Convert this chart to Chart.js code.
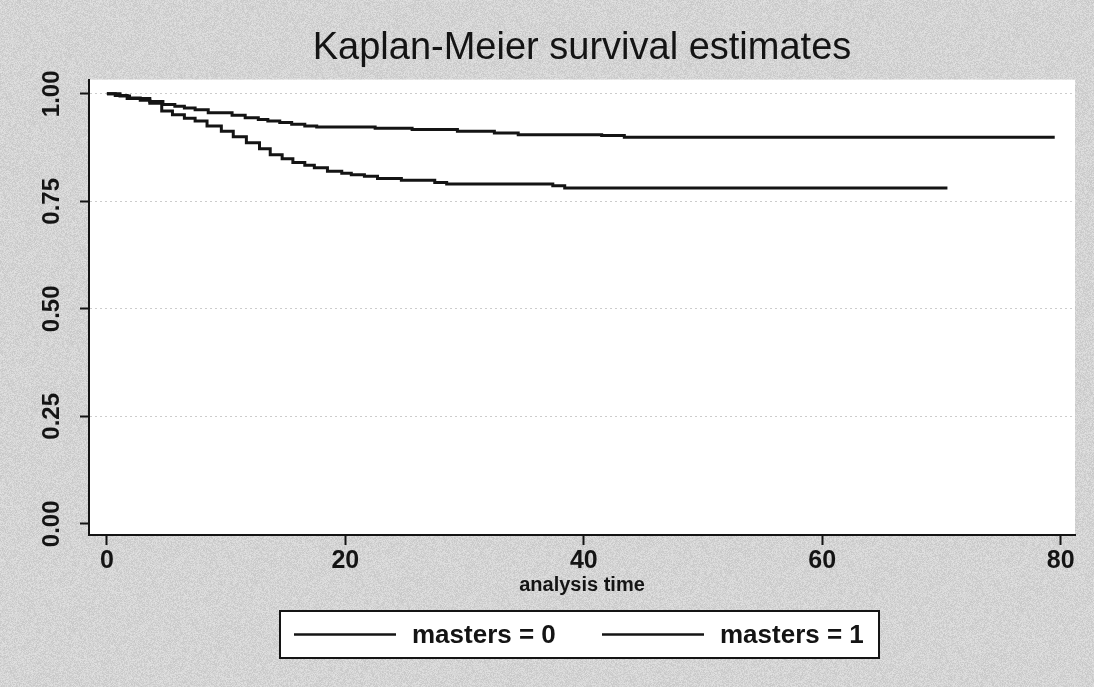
<!DOCTYPE html>
<html>
<head>
<meta charset="utf-8">
<title>Kaplan-Meier survival estimates</title>
<script src="https://cdn.jsdelivr.net/npm/chart.js@4.4.1/dist/chart.umd.min.js"></script>
<style>
  html, body { margin: 0; padding: 0; background: #d3d3d3; }
  canvas { display: block; }
</style>
</head>
<body>
<canvas id="km" width="1094" height="687"></canvas>
<script>
// Kaplan-Meier step estimates by group (time, survival after the step)
const timeMasters0 = [0, 0.7, 1.7, 3.6, 4.7, 5.7, 6.5, 7.4, 8.5, 10.5, 11.6, 12.7, 13.5, 14.5, 15.5, 16.6, 17.6, 22.5, 25.6, 29.4, 32.5, 34.5, 41.5, 43.4, 79.5];
const survMasters0 = [1.000, 0.996, 0.989, 0.982, 0.975, 0.971, 0.967, 0.963, 0.956, 0.950, 0.944, 0.940, 0.937, 0.933, 0.929, 0.925, 0.923, 0.920, 0.917, 0.913, 0.909, 0.905, 0.903, 0.899, 0.899];

const timeMasters1 = [0, 1.1, 1.9, 2.8, 3.6, 4.6, 5.5, 6.5, 7.4, 8.4, 9.6, 10.6, 11.7, 12.8, 13.7, 14.7, 15.6, 16.6, 17.4, 18.5, 19.7, 20.5, 21.6, 22.7, 24.7, 27.5, 28.5, 37.4, 38.4, 70.5];
const survMasters1 = [1.000, 0.995, 0.990, 0.985, 0.978, 0.960, 0.951, 0.943, 0.937, 0.925, 0.913, 0.900, 0.886, 0.872, 0.858, 0.849, 0.840, 0.834, 0.828, 0.820, 0.815, 0.812, 0.808, 0.803, 0.799, 0.794, 0.790, 0.786, 0.781, 0.781];

const groupLabels = ['masters = 0', 'masters = 1'];
const xTicks = [0, 20, 40, 60, 80];
const yTicks = [0, 0.25, 0.5, 0.75, 1];

const FONT = "'Liberation Sans', Arial, Helvetica, sans-serif";
const INK = '#141414';

function toPoints(ts, ss) {
  return ts.map((t, i) => ({ x: t, y: ss[i] }));
}

// Paper tone with a fine grain, white plot region on top
let grainCanvas = null;
function makeGrain(w, h) {
  const c = document.createElement('canvas');
  c.width = w; c.height = h;
  const g = c.getContext('2d');
  const img = g.createImageData(w, h);
  let s = 12345;
  for (let i = 0; i < w * h; i++) {
    s = (s * 1103515245 + 12345) & 0x7fffffff;
    const n = ((s >> 16) & 63) - 32;
    const v = 212 + Math.round(n * 0.4);
    img.data[i * 4] = v; img.data[i * 4 + 1] = v; img.data[i * 4 + 2] = v; img.data[i * 4 + 3] = 255;
  }
  g.putImageData(img, 0, 0);
  return c;
}

const backdrop = {
  id: 'backdrop',
  beforeDraw(chart) {
    const { ctx, chartArea: a, width, height } = chart;
    if (!grainCanvas) grainCanvas = makeGrain(width, height);
    ctx.save();
    ctx.drawImage(grainCanvas, 0, 0);
    ctx.fillStyle = '#ffffff';
    ctx.fillRect(a.left, a.top, a.right - a.left, a.bottom - a.top);
    ctx.restore();
  }
};

// Boxed legend below the axis title
const boxedLegend = {
  id: 'boxedLegend',
  afterDraw(chart) {
    const { ctx } = chart;
    const box = { x: 280, y: 611, w: 599, h: 47 };
    const cy = box.y + box.h / 2;
    ctx.save();
    ctx.fillStyle = '#ffffff';
    ctx.fillRect(box.x, box.y, box.w, box.h);
    ctx.strokeStyle = INK;
    ctx.lineWidth = 2;
    ctx.strokeRect(box.x, box.y, box.w, box.h);
    ctx.font = 'bold 26px ' + FONT;
    ctx.fillStyle = INK;
    ctx.textBaseline = 'middle';
    ctx.textAlign = 'left';
    const slots = [294, 602];
    chart.data.datasets.forEach((ds, i) => {
      const x0 = slots[i];
      ctx.beginPath();
      ctx.lineWidth = 2.5;
      ctx.strokeStyle = ds.borderColor;
      ctx.moveTo(x0, cy);
      ctx.lineTo(x0 + 102, cy);
      ctx.stroke();
      ctx.fillText(ds.label, x0 + 118, cy + 1);
    });
    ctx.restore();
  }
};

new Chart(document.getElementById('km'), {
  type: 'line',
  data: {
    datasets: [
      {
        label: groupLabels[0],
        data: toPoints(timeMasters0, survMasters0),
        borderColor: INK,
        borderWidth: 3,
        stepped: true,
        pointRadius: 0,
        fill: false
      },
      {
        label: groupLabels[1],
        data: toPoints(timeMasters1, survMasters1),
        borderColor: INK,
        borderWidth: 3,
        stepped: true,
        pointRadius: 0,
        fill: false
      }
    ]
  },
  options: {
    responsive: false,
    animation: false,
    devicePixelRatio: 1,
    layout: { padding: { left: 0, right: 19, top: 0, bottom: 0 } },
    plugins: {
      legend: { display: false },
      tooltip: { enabled: false },
      title: {
        display: true,
        fullSize: false,
        text: 'Kaplan-Meier survival estimates',
        color: INK,
        font: { family: FONT, size: 38, weight: 'normal' },
        padding: { top: 26, bottom: 8 }
      }
    },
    scales: {
      x: {
        type: 'linear',
        min: -1.5,
        max: 81.2,
        afterFit(scale) { scale.height = 152; },
        afterBuildTicks(scale) { scale.ticks = xTicks.map(v => ({ value: v })); },
        grid: { drawOnChartArea: false, drawTicks: true, tickLength: 10, tickColor: INK, tickWidth: 2 },
        border: { display: true, color: INK, width: 2 },
        ticks: {
          color: INK,
          padding: 1,
          maxRotation: 0,
          font: { family: FONT, size: 25, weight: 'bold' },
          callback: v => String(v)
        },
        title: {
          display: true,
          text: 'analysis time',
          color: INK,
          font: { family: FONT, size: 20, weight: 'bold' },
          padding: { top: 0, bottom: 90 }
        }
      },
      y: {
        type: 'linear',
        min: -0.026,
        max: 1.033,
        afterFit(scale) { scale.width = 89; },
        afterBuildTicks(scale) { scale.ticks = yTicks.map(v => ({ value: v })); },
        grid: {
          drawOnChartArea: true,
          drawTicks: true,
          tickLength: 9,
          tickColor: INK,
          tickWidth: 2,
          lineWidth: 1,
          color: ctx => (ctx.tick && ctx.tick.value === 0 ? 'rgba(0,0,0,0)' : '#cccccc')
        },
        border: { display: true, color: INK, width: 2, dash: [2, 3] },
        ticks: {
          color: INK,
          padding: 4,
          minRotation: 90,
          maxRotation: 90,
          crossAlign: 'center',
          font: { family: FONT, size: 24, weight: 'bold' },
          callback: v => Number(v).toFixed(2)
        }
      }
    }
  },
  plugins: [backdrop, boxedLegend]
});
</script>
</body>
</html>
